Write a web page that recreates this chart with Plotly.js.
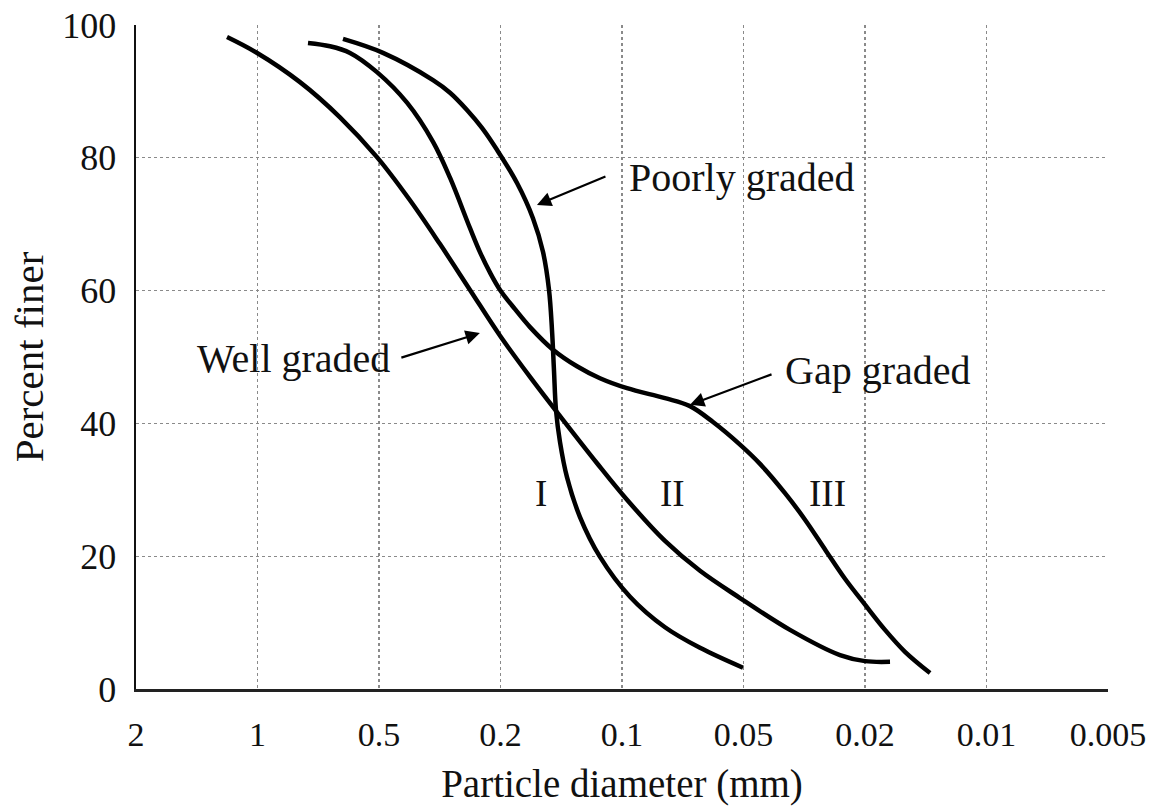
<!DOCTYPE html>
<html>
<head>
<meta charset="utf-8">
<script src="https://cdn.plot.ly/plotly-3.0.1.min.js"></script>
<style>
  html, body { margin: 0; padding: 0; background: #fff; }
  #chart { width: 1164px; height: 806px; }
</style>
</head>
<body>
<div id="chart"></div>
<script>
// Sieve sizes shown on the x axis (mm), equally spaced on the chart
const tickDiam = [2, 1, 0.5, 0.2, 0.1, 0.05, 0.02, 0.01, 0.005];
const tickText = ["2", "1", "0.5", "0.2", "0.1", "0.05", "0.02", "0.01", "0.005"];
const yTicks = [0, 20, 40, 60, 80, 100];

// Well graded soil: diameter (mm) and percent finer
const wellD = [1.190, 1.009, 0.7847, 0.6246, 0.5058, 0.3958, 0.3156, 0.2517, 0.2007, 0.1690, 0.1424, 0.1153, 0.09718, 0.07825, 0.06408, 0.05101, 0.03521, 0.02415, 0.02000, 0.01734];
const wellP = [98.2, 95.9, 91.4, 86.1, 80.1, 73.6, 67.0, 60.1, 53.2, 47.0, 41.1, 34.0, 28.5, 22.3, 17.8, 13.7, 8.9, 5.1, 4.2, 4.1];

// Poorly graded soil
const poorD = [0.6140, 0.4851, 0.3327, 0.2927, 0.2575, 0.2300, 0.2054, 0.1820, 0.1662, 0.1569, 0.15164, 0.14910, 0.14741, 0.14573, 0.14244, 0.13687, 0.12708, 0.11336, 0.09554, 0.07825, 0.06408, 0.05014];
const poorP = [97.9, 95.8, 91.7, 89.8, 87.2, 84.5, 81.2, 76.2, 70.9, 65.8, 60.1, 54.1, 48.0, 42.0, 37.2, 31.9, 25.9, 19.9, 13.9, 9.3, 6.2, 3.2];

// Gap graded soil
const gapD = [0.7497, 0.6613, 0.5899, 0.5058, 0.4048, 0.3327, 0.2927, 0.2517, 0.2335, 0.2164, 0.2007, 0.1841, 0.1690, 0.1482, 0.1293, 0.1134, 0.09718, 0.07825, 0.06784, 0.05950, 0.05101, 0.04415, 0.03656, 0.03144, 0.02684, 0.02326, 0.02000, 0.01784, 0.01592, 0.01380];
const gapP = [97.3, 96.8, 95.8, 92.9, 88.3, 82.4, 77.0, 69.4, 65.8, 62.7, 60.1, 57.2, 54.5, 51.1, 48.6, 46.8, 45.3, 43.8, 42.6, 40.2, 36.8, 33.9, 29.5, 25.5, 20.8, 16.6, 12.7, 8.9, 5.6, 2.4];

// Map a diameter to its position on the chart's equally spaced sieve scale
function toPos(d) {
  const t = tickDiam;
  for (let i = 0; i < t.length - 1; i++) {
    if (d <= t[i] && d >= t[i + 1]) {
      return i + Math.log(d / t[i]) / Math.log(t[i + 1] / t[i]);
    }
  }
  if (d > t[0]) return Math.log(d / t[0]) / Math.log(t[1] / t[0]);
  const n = t.length - 1;
  return n - 1 + Math.log(d / t[n - 1]) / Math.log(t[n] / t[n - 1]);
}

const FONT = "Liberation Serif, Times New Roman, serif";
const lineStyle = { color: "#000", width: 4.5, shape: "spline", smoothing: 1 };

const traces = [
  { x: wellD.map(toPos), y: wellP, mode: "lines", line: lineStyle, name: "Well graded", hoverinfo: "skip" },
  { x: poorD.map(toPos), y: poorP, mode: "lines", line: lineStyle, name: "Poorly graded", hoverinfo: "skip" },
  { x: gapD.map(toPos), y: gapP, mode: "lines", line: lineStyle, name: "Gap graded", hoverinfo: "skip" }
];

const arrowBase = { text: "", showarrow: true, arrowhead: 2, arrowsize: 1.3, arrowwidth: 2.2, arrowcolor: "#000", xref: "x", yref: "y", standoff: 0 };
const labelBase = { showarrow: false, xref: "x", yref: "y", font: { family: FONT, size: 40, color: "#111" } };
const romanFont = { family: FONT, size: 37, color: "#111" };

const layout = {
  width: 1164,
  height: 806,
  margin: { l: 136, r: 56, t: 25, b: 117 },
  paper_bgcolor: "#fff",
  plot_bgcolor: "#fff",
  showlegend: false,
  font: { family: FONT, color: "#111" },
  xaxis: {
    range: [0, 8],
    tickmode: "array",
    tickvals: tickDiam.map((d, i) => i),
    ticktext: tickText,
    tickfont: { family: FONT, size: 34, color: "#111" },
    ticks: "",
    ticklabelstandoff: 14,
    showgrid: true,
    gridcolor: "#8a8a8a",
    griddash: "dot",
    gridwidth: 1.2,
    showline: true,
    linecolor: "#222",
    linewidth: 2.5,
    zeroline: false,
    fixedrange: true,
    title: { text: "Particle diameter (mm)", font: { family: FONT, size: 39, color: "#111" }, standoff: 24 }
  },
  yaxis: {
    range: [0, 100],
    tickmode: "array",
    tickvals: yTicks,
    ticktext: yTicks.map(String),
    tickfont: { family: FONT, size: 36, color: "#111" },
    ticks: "",
    ticklabelstandoff: 10,
    showgrid: true,
    gridcolor: "#8a8a8a",
    griddash: "dot",
    gridwidth: 1.2,
    showline: true,
    linecolor: "#111",
    linewidth: 2.5,
    zeroline: false,
    fixedrange: true,
    title: { text: "Percent finer", font: { family: FONT, size: 41, color: "#111" }, standoff: 6 }
  },
  annotations: [
    Object.assign({}, labelBase, { text: "Poorly graded", x: 4.041, y: 77.0, xanchor: "left", yanchor: "middle" }),
    Object.assign({}, labelBase, { text: "Well graded", x: 2.107, y: 49.8, xanchor: "right", yanchor: "middle" }),
    Object.assign({}, labelBase, { text: "Gap graded", x: 5.325, y: 48.0, xanchor: "left", yanchor: "middle" }),
    Object.assign({}, labelBase, { text: "I", x: 3.333, y: 29.5, font: romanFont }),
    Object.assign({}, labelBase, { text: "II", x: 4.412, y: 29.5, font: romanFont }),
    Object.assign({}, labelBase, { text: "III", x: 5.695, y: 29.5, font: romanFont }),
    Object.assign({}, arrowBase, { x: 3.30, y: 72.9, ax: 70, ay: -29 }),
    Object.assign({}, arrowBase, { x: 2.83, y: 53.6, ax: -80, ay: 25 }),
    Object.assign({}, arrowBase, { x: 4.56, y: 42.8, ax: 83, ay: -31 })
  ]
};

Plotly.newPlot("chart", traces, layout, { displayModeBar: false, staticPlot: true });
</script>
</body>
</html>
